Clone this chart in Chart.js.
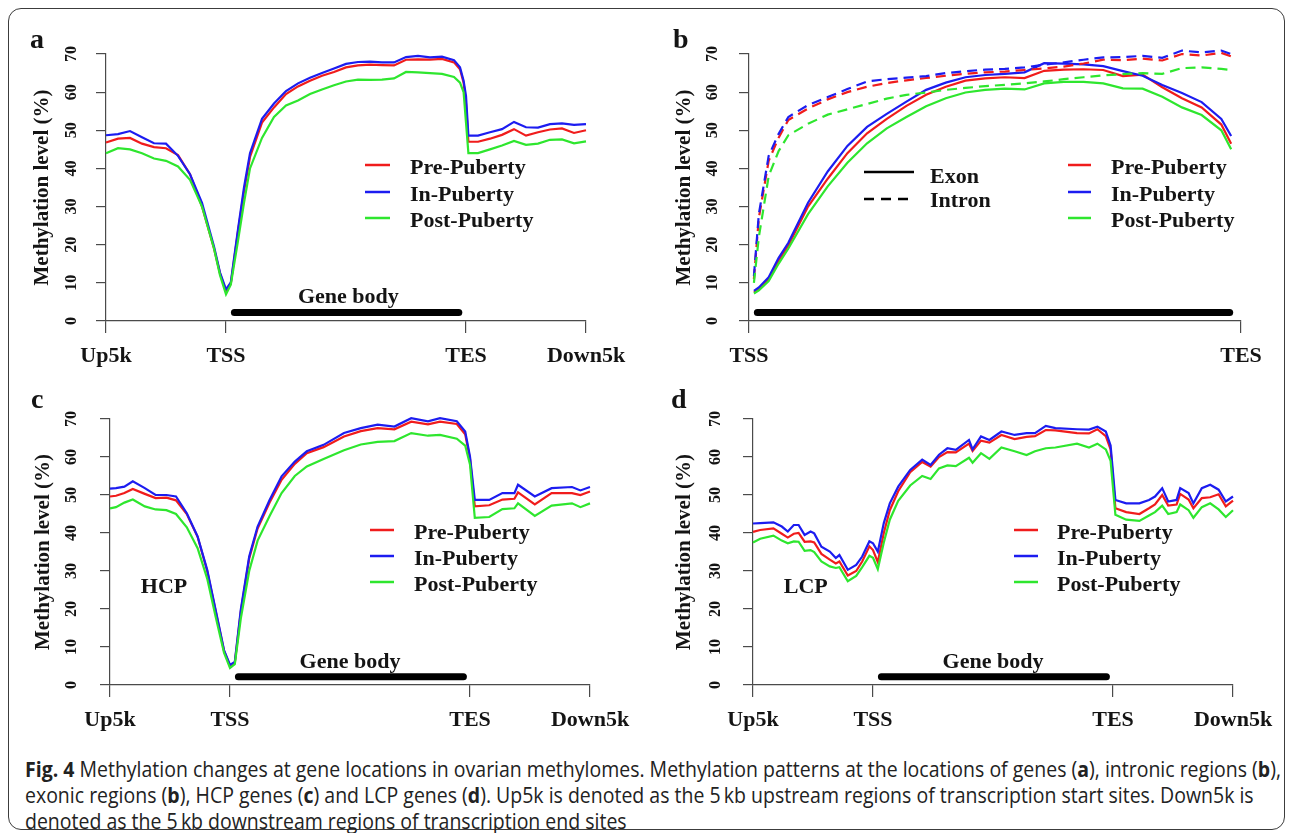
<!DOCTYPE html>
<html>
<head>
<meta charset="utf-8">
<title>Methylation at gene locations</title>
<script src="https://cdn.jsdelivr.net/npm/chart.js@4.4.0/dist/chart.umd.min.js"></script>
<style>
  html, body { margin: 0; padding: 0; background: #fff; }
  #fig { position: relative; width: 1292px; height: 833px; overflow: hidden; background: #fff; }
  #frame {
    position: absolute; left: 8px; top: 8px; width: 1277px; height: 822px;
    box-sizing: border-box; border: 1.5px solid #3c3c3c; border-radius: 13px;
  }
  canvas.panel { position: absolute; }
  #caption {
    position: absolute; left: 25px; top: 756px;
    font-family: 'Open Sans', 'Liberation Sans', sans-serif; font-size: 21px;
    line-height: 26px; color: #222; white-space: nowrap; transform-origin: 0 0;
  }
  #caption span { display: inline-block; }
</style>
</head>
<body>
<div id="fig">
  <div id="frame"></div>
  <canvas id="panelA" class="panel" width="646" height="375" style="left:0;top:0"></canvas>
  <canvas id="panelB" class="panel" width="646" height="375" style="left:646px;top:0"></canvas>
  <canvas id="panelC" class="panel" width="646" height="375" style="left:0;top:365px"></canvas>
  <canvas id="panelD" class="panel" width="646" height="375" style="left:646px;top:365px"></canvas>
  <div id="caption">
    <div><span id="capLine1"><b>Fig. 4</b> Methylation changes at gene locations in ovarian methylomes. Methylation patterns at the locations of genes (<b>a</b>), intronic regions (<b>b</b>),</span></div>
    <div><span>exonic regions (<b>b</b>), HCP genes (<b>c</b>) and LCP genes (<b>d</b>). Up5k is denoted as the 5&#8201;kb upstream regions of transcription start sites. Down5k is</span></div>
    <div><span>denoted as the 5&#8201;kb downstream regions of transcription end sites</span></div>
  </div>
</div>
<script>
// ---- data ----
const stageNames = ['Pre-Puberty', 'In-Puberty', 'Post-Puberty'];
const stageColors = ['#f01c1c', '#1c1cf0', '#2ee62e'];
const yTickValues = [0, 10, 20, 30, 40, 50, 60, 70];
const geneTickValues = [0, 1, 3, 4];
const geneTickLabels = ['Up5k', 'TSS', 'TES', 'Down5k'];
const bodyTickValues = [0, 100];
const bodyTickLabels = ['TSS', 'TES'];

// panel a: all genes (Up5k = 0, TSS = 1, TES = 3, Down5k = 4)
const xA = [0, 0.1, 0.2, 0.3, 0.4, 0.5, 0.6, 0.7, 0.8, 0.9, 0.95, 1.0, 1.04, 1.1, 1.15, 1.2,
  1.3, 1.4, 1.5, 1.6, 1.7, 1.8, 1.9, 2.0, 2.1, 2.2, 2.3, 2.4, 2.5, 2.6, 2.7, 2.8, 2.9,
  2.95, 2.98, 3.0, 3.02, 3.1, 3.2, 3.3, 3.4, 3.5, 3.6, 3.7, 3.8, 3.9, 4.0];
const preA = [46.8, 47.8, 48.0, 46.5, 45.6, 45.3, 43.5, 38.5, 30.0, 19.0, 12.5, 7.8, 9.8, 23.5, 34.0, 43.0,
  52.0, 56.0, 59.5, 61.5, 63.0, 64.3, 65.3, 66.5, 67.0, 67.2, 67.1, 67.0, 68.5, 68.6, 68.5, 68.7, 67.8,
  66.0, 62.5, 57.0, 47.0, 47.0, 47.8, 48.8, 50.3, 48.6, 49.5, 50.2, 50.5, 49.3, 50.0];
const inA = [48.7, 49.0, 49.8, 48.2, 46.6, 46.5, 43.3, 38.5, 31.0, 19.5, 12.7, 8.3, 10.1, 24.0, 35.0, 44.0,
  53.0, 57.0, 60.3, 62.3, 63.8, 65.0, 66.2, 67.4, 67.9, 68.0, 67.8, 67.8, 69.2, 69.5, 69.1, 69.3, 68.4,
  66.5, 63.0, 59.0, 48.6, 48.6, 49.5, 50.3, 52.2, 50.8, 50.7, 51.6, 51.8, 51.4, 51.6];
const postA = [44.0, 45.3, 45.0, 44.0, 42.6, 42.0, 40.5, 37.0, 30.0, 19.0, 12.0, 7.0, 9.5, 21.0, 31.0, 40.0,
  48.0, 53.5, 56.5, 57.8, 59.5, 60.7, 61.8, 62.8, 63.3, 63.2, 63.3, 63.6, 65.3, 65.2, 65.0, 64.8, 64.0,
  62.5, 60.0, 52.0, 44.0, 44.0, 45.0, 46.0, 47.2, 46.2, 46.5, 47.5, 47.6, 46.6, 47.1];

// panel b: exon (solid) and intron (dashed), TSS = 0 .. TES = 100
const xB = [1, 2, 4, 6, 8, 12, 16, 20, 24, 28, 32, 36, 40, 44, 48, 52, 56, 60, 64, 68, 72, 76, 80, 84, 88, 92, 96, 98];
const preExonB = [7.5, 8.3, 11.0, 15.8, 19.8, 30.0, 37.3, 44.0, 49.2, 53.0, 56.4, 59.3, 61.4, 63.0, 63.6, 63.9,
  63.7, 65.6, 65.9, 66.0, 65.8, 64.2, 64.6, 61.3, 58.4, 56.0, 51.5, 46.5];
const inExonB = [7.9, 8.8, 11.5, 16.5, 20.5, 31.0, 39.2, 45.9, 50.9, 54.3, 57.5, 60.6, 62.5, 63.9, 64.5, 64.8,
  65.2, 67.6, 67.5, 67.3, 66.8, 65.5, 64.3, 61.9, 59.8, 57.4, 53.0, 48.5];
const postExonB = [7.2, 8.0, 10.5, 15.0, 19.0, 28.0, 35.3, 41.5, 46.6, 50.5, 53.5, 56.3, 58.4, 59.9, 60.6, 60.9,
  60.7, 62.3, 62.7, 62.7, 62.3, 61.0, 60.9, 58.8, 56.0, 54.0, 50.0, 45.0];
const preIntronB = [11.0, 27.0, 42.0, 48.0, 52.7, 55.7, 58.1, 60.0, 61.4, 62.4, 63.1, 63.7, 64.3, 64.8, 65.2, 65.4,
  65.8, 66.2, 66.7, 67.5, 68.5, 68.4, 68.8, 68.3, 70.0, 69.6, 70.3, 69.4];
const inIntronB = [11.8, 28.0, 43.3, 49.0, 53.5, 56.6, 58.7, 60.8, 62.8, 63.4, 63.8, 64.2, 65.0, 65.5, 65.9, 66.1,
  66.5, 67.2, 67.8, 68.5, 69.1, 69.2, 69.5, 69.0, 70.9, 70.4, 70.9, 70.0];
const postIntronB = [10.0, 22.0, 38.0, 44.5, 48.7, 51.7, 54.1, 55.5, 56.9, 58.3, 59.3, 59.9, 60.6, 61.1, 61.6, 61.9,
  62.3, 62.8, 63.4, 63.9, 64.4, 64.7, 65.0, 64.8, 66.3, 66.5, 66.1, 65.8];

// panel c: HCP genes
const xC = [0, 0.05, 0.12, 0.19, 0.29, 0.38, 0.47, 0.55, 0.64, 0.73, 0.81, 0.88, 0.95, 1.0, 1.04, 1.09,
  1.16, 1.23, 1.33, 1.43, 1.54, 1.64, 1.78, 1.95, 2.09, 2.23, 2.37, 2.51, 2.65, 2.75, 2.89, 2.96,
  3.0, 3.04, 3.16, 3.27, 3.37, 3.4, 3.54, 3.68, 3.85, 3.92, 4.0];
const preC = [49.6, 49.8, 50.5, 51.6, 50.3, 49.2, 49.3, 48.6, 45.0, 39.0, 30.0, 19.5, 9.0, 5.0, 5.8, 19.3,
  33.3, 41.2, 48.0, 54.0, 58.2, 61.0, 62.6, 65.4, 66.8, 67.6, 67.3, 69.3, 68.6, 69.3, 68.7, 66.0,
  59.5, 47.0, 47.3, 48.8, 49.0, 50.7, 47.5, 50.5, 50.5, 50.0, 50.9];
const inC = [51.7, 51.8, 52.2, 53.6, 51.8, 50.0, 50.0, 49.6, 45.2, 39.1, 30.3, 19.8, 9.2, 5.3, 6.1, 19.8,
  33.8, 41.7, 48.7, 54.9, 58.8, 61.5, 63.2, 66.3, 67.6, 68.5, 68.0, 70.2, 69.4, 70.2, 69.4, 66.7,
  60.1, 48.7, 48.7, 50.5, 50.5, 52.7, 49.6, 51.8, 52.1, 51.2, 52.1];
const postC = [46.5, 46.8, 48.0, 48.8, 47.0, 46.2, 46.0, 45.0, 41.5, 36.0, 28.0, 18.0, 8.5, 4.5, 5.5, 17.5,
  30.0, 38.0, 44.5, 50.5, 55.0, 57.5, 59.5, 61.8, 63.3, 64.0, 64.2, 66.3, 65.6, 65.8, 64.8, 63.0,
  58.0, 44.0, 44.2, 46.3, 46.5, 47.8, 44.5, 47.2, 47.8, 46.8, 47.8];

// panel d: LCP genes
const xD = [0, 0.06, 0.17, 0.24, 0.29, 0.34, 0.38, 0.43, 0.48, 0.51, 0.57, 0.64, 0.69, 0.72, 0.79, 0.86,
  0.91, 0.97, 1.0, 1.04, 1.09, 1.14, 1.21, 1.31, 1.41, 1.48, 1.55, 1.62, 1.69, 1.8, 1.83, 1.9, 1.97,
  2.07, 2.18, 2.28, 2.35, 2.44, 2.52, 2.7, 2.8, 2.87, 2.94, 2.98, 3.02, 3.11, 3.22, 3.3, 3.35, 3.41,
  3.46, 3.53, 3.56, 3.63, 3.67, 3.74, 3.81, 3.88, 3.94, 4.0];
const preD = [40.3, 40.8, 41.2, 39.8, 38.8, 39.8, 40.0, 37.7, 37.8, 37.5, 34.5, 33.0, 32.0, 32.5, 28.8, 30.0,
  32.5, 36.5, 35.5, 32.3, 40.0, 46.0, 51.0, 56.0, 58.7, 57.5, 60.0, 61.3, 61.2, 63.5, 61.6, 64.3, 63.8,
  65.8, 64.7, 65.3, 65.5, 67.1, 67.0, 66.3, 66.2, 67.3, 65.5, 62.0, 46.5, 45.5, 45.0, 46.5, 47.5, 50.0,
  47.2, 47.5, 50.3, 48.8, 46.5, 49.2, 49.4, 50.2, 47.0, 48.5];
const inD = [42.5, 42.6, 42.8, 41.7, 40.4, 42.1, 42.1, 39.5, 40.4, 39.9, 36.4, 35.1, 33.4, 34.2, 30.3, 31.6,
  33.8, 37.8, 37.3, 35.1, 42.6, 47.8, 52.2, 56.6, 59.3, 57.9, 60.6, 62.3, 61.9, 64.5, 62.0, 65.4, 64.5,
  66.7, 65.8, 66.3, 66.3, 68.2, 67.6, 67.3, 67.2, 68.0, 66.7, 63.0, 48.7, 47.8, 47.8, 48.7, 49.6, 51.8,
  48.3, 48.7, 51.8, 50.5, 47.8, 51.8, 52.7, 51.4, 48.3, 49.6];
const postD = [37.5, 38.5, 39.3, 38.0, 37.3, 37.8, 37.7, 35.3, 35.5, 35.0, 32.5, 31.2, 30.8, 31.0, 27.3, 28.7,
  31.0, 34.0, 33.5, 30.5, 37.5, 43.5, 48.5, 52.5, 55.0, 54.2, 57.0, 57.8, 57.6, 59.8, 58.5, 61.0, 59.5,
  62.5, 61.5, 60.5, 61.5, 62.3, 62.5, 63.5, 62.5, 63.5, 62.0, 59.0, 44.8, 43.5, 43.2, 44.6, 45.5, 47.2,
  45.0, 45.5, 47.5, 46.0, 44.0, 46.8, 47.8, 46.2, 44.2, 46.0];

// gene body bars (x from, x to, level)
const geneBarA = [1.07, 2.94];
const geneBarB = [1.7, 97.7];
const geneBarC = [1.07, 2.945];
const geneBarD = [1.07, 2.945];
const geneBarLevel = 2.2;

// ---- drawing ----
const SERIF = "'Liberation Serif', 'Times New Roman', serif";
const INK = '#141414';
const AXIS = '#4a4a4a';

// R style extras: rotated y labels, panel letter, in-plot notes, legend
const panelDecor = {
  id: 'panelDecor',
  afterDatasetsDraw(chart, args, o) {
    const { ctx, chartArea } = chart;
    const xs = chart.scales.x;
    const ys = chart.scales.y;
    ctx.save();
    ctx.fillStyle = INK;

    ctx.font = 'bold 16px ' + SERIF;
    ctx.textAlign = 'center';
    ctx.textBaseline = 'middle';
    yTickValues.forEach((v) => {
      ctx.save();
      ctx.translate(chartArea.left - o.yLabelGap, ys.getPixelForValue(v));
      ctx.rotate(-Math.PI / 2);
      ctx.fillText(String(v), 0, 0);
      ctx.restore();
    });

    ctx.font = 'bold 28px ' + SERIF;
    ctx.textAlign = 'left';
    ctx.textBaseline = 'alphabetic';
    ctx.fillText(o.letter, o.letterPos[0], o.letterPos[1]);

    ctx.font = 'bold 22px ' + SERIF;
    ctx.textAlign = 'center';
    ctx.textBaseline = 'middle';
    (o.notes || []).forEach((n) => {
      ctx.fillText(n.text, xs.getPixelForValue(n.x), ys.getPixelForValue(n.y));
    });

    ctx.textAlign = 'left';
    ctx.lineWidth = 2.5;
    (o.legend || []).forEach((item) => {
      ctx.strokeStyle = item.color;
      ctx.setLineDash(item.dash || []);
      ctx.beginPath();
      ctx.moveTo(item.line[0], item.lineY);
      ctx.lineTo(item.line[1], item.lineY);
      ctx.stroke();
      ctx.fillText(item.text, item.textX, item.textY);
    });
    ctx.restore();
  },
};

function stageLegend(x0, x1, textX, rows) {
  return stageNames.map((name, i) => ({
    text: name, color: stageColors[i], line: [x0, x1], lineY: rows[i] - 3, textX, textY: rows[i],
  }));
}

function toPoints(xv, yv) {
  return xv.map((x, i) => ({ x, y: yv[i] }));
}

function lineSet(label, xv, yv, color, order, dash) {
  return {
    label, data: toPoints(xv, yv), borderColor: color, borderWidth: 2.2, borderDash: dash || [],
    pointRadius: 0, tension: 0, fill: false, clip: false, order,
  };
}

function barSet(range) {
  return {
    label: 'Gene body', data: [{ x: range[0], y: geneBarLevel }, { x: range[1], y: geneBarLevel }],
    borderColor: '#000', borderWidth: 7, borderCapStyle: 'round', pointRadius: 0, clip: false, order: -1,
  };
}

function makePanel(canvasId, p) {
  const canvas = document.getElementById(canvasId);
  return new Chart(canvas, {
    type: 'line',
    data: { datasets: p.datasets },
    options: {
      responsive: false,
      animation: false,
      events: [],
      layout: { padding: { left: 0, top: p.top, right: p.right, bottom: p.bottom } },
      scales: {
        x: {
          type: 'linear', min: p.xMin, max: p.xMax,
          afterBuildTicks: (s) => { s.ticks = p.xTicks.map((v) => ({ value: v })); },
          afterFit: (s) => { s.height = 50; },
          ticks: {
            autoSkip: false, maxRotation: 0, minRotation: 0, padding: 10, color: INK,
            font: { family: SERIF, size: 22, weight: 'bold' },
            callback: (v) => p.xLabels[p.xTicks.indexOf(v)],
          },
          grid: { display: true, drawOnChartArea: false, drawTicks: true, tickLength: 12, color: AXIS, lineWidth: 1.2 },
          border: { display: true, color: AXIS, width: 1.2 },
        },
        y: {
          type: 'linear', min: 0, max: 70,
          afterFit: (s) => { s.width = p.yWidth; },
          ticks: { display: false, stepSize: 10 },
          grid: { display: true, drawOnChartArea: false, drawTicks: true, tickLength: 10, color: AXIS, lineWidth: 1.2 },
          border: { display: true, color: AXIS, width: 1.2 },
          title: {
            display: true, text: 'Methylation level (%)', color: INK,
            font: { family: SERIF, size: 21, weight: 'bold' },
            padding: { top: p.titlePad, bottom: 0 },
          },
        },
      },
      plugins: {
        legend: { display: false },
        tooltip: { enabled: false },
        panelDecor: p.decor,
      },
    },
    plugins: [panelDecor],
  });
}

function stageSets(xv, pre, inp, post, dash, orderBase) {
  return [
    lineSet(stageNames[0] + (dash ? ' intron' : ''), xv, pre, stageColors[0], orderBase + 2, dash),
    lineSet(stageNames[1] + (dash ? ' intron' : ''), xv, inp, stageColors[1], orderBase + 1, dash),
    lineSet(stageNames[2] + (dash ? ' intron' : ''), xv, post, stageColors[2], orderBase, dash),
  ];
}

const INTRON_DASH = [10, 6];

function drawAll() {
  makePanel('panelA', {
    datasets: stageSets(xA, preA, inA, postA, null, 0).concat([barSet(geneBarA)]),
    xMin: 0, xMax: 4, xTicks: geneTickValues, xLabels: geneTickLabels,
    top: 54, right: 60, bottom: 4, yWidth: 106, titlePad: 30,
    decor: {
      letter: 'a', letterPos: [30, 48], yLabelGap: 34,
      notes: [{ text: 'Gene body', x: 2.02, y: 6.1 }],
      legend: stageLegend(365, 390, 410, [168, 195, 221]),
    },
  });

  makePanel('panelB', {
    datasets: stageSets(xB, preExonB, inExonB, postExonB, null, 3)
      .concat(stageSets(xB, preIntronB, inIntronB, postIntronB, INTRON_DASH, 0))
      .concat([barSet(geneBarB)]),
    xMin: 0, xMax: 100, xTicks: bodyTickValues, xLabels: bodyTickLabels,
    top: 54, right: 51, bottom: 4, yWidth: 103, titlePad: 26,
    decor: {
      letter: 'b', letterPos: [27, 48], yLabelGap: 36,
      notes: [],
      legend: [
        { text: 'Exon', color: '#000', line: [218, 268], lineY: 172, textX: 284, textY: 177 },
        { text: 'Intron', color: '#000', dash: [10, 7], line: [218, 268], lineY: 199, textX: 284, textY: 201 },
      ].concat(stageLegend(422, 445, 465, [168, 195, 221])),
    },
  });

  makePanel('panelC', {
    datasets: stageSets(xC, preC, inC, postC, null, 0).concat([barSet(geneBarC)]),
    xMin: 0, xMax: 4, xTicks: geneTickValues, xLabels: geneTickLabels,
    top: 54, right: 56, bottom: 5, yWidth: 110, titlePad: 31,
    decor: {
      letter: 'c', letterPos: [31, 43], yLabelGap: 38,
      notes: [{ text: 'Gene body', x: 2.0, y: 6.05 }, { text: 'HCP', x: 0.45, y: 25.8 }],
      legend: stageLegend(370, 394, 414, [168, 194, 220]),
    },
  });

  makePanel('panelD', {
    datasets: stageSets(xD, preD, inD, postD, null, 0).concat([barSet(geneBarD)]),
    xMin: 0, xMax: 4, xTicks: geneTickValues, xLabels: geneTickLabels,
    top: 54, right: 59, bottom: 5, yWidth: 107, titlePad: 26,
    decor: {
      letter: 'd', letterPos: [25, 43], yLabelGap: 37,
      notes: [{ text: 'Gene body', x: 2.0, y: 6.05 }, { text: 'LCP', x: 0.44, y: 25.8 }],
      legend: stageLegend(368, 392, 411, [168, 194, 220]),
    },
  });
}

// make sure the serif face is ready before canvas text is drawn
document.fonts.load('bold 22px "Liberation Serif"').catch(() => null).then(drawAll);

// the caption uses a condensed face; squeeze a regular one to the same line length
const cap = document.getElementById('caption');
const firstLine = document.getElementById('capLine1');
const w = firstLine.getBoundingClientRect().width;
if (w > 0) cap.style.transform = 'scaleX(' + (1256 / w).toFixed(4) + ')';
</script>
</body>
</html>
